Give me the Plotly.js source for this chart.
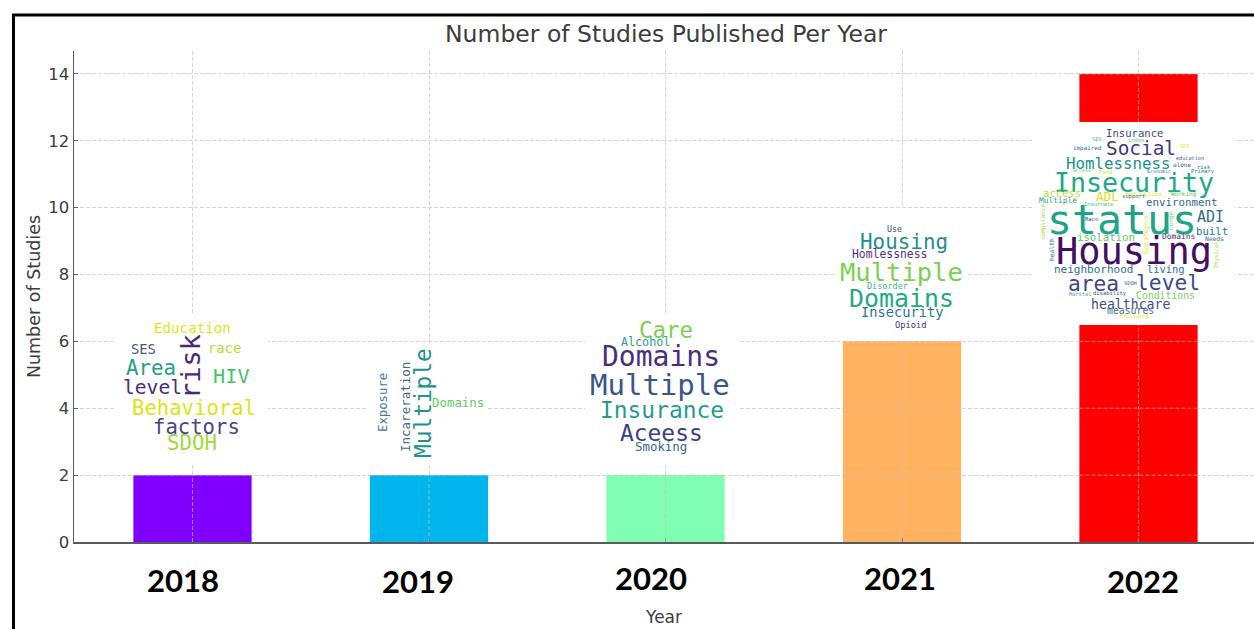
<!DOCTYPE html>
<html><head><meta charset="utf-8">
<script src="https://cdn.plot.ly/plotly-3.0.1.min.js"></script>
<style>html,body{margin:0;padding:0;background:#fff;overflow:hidden}#c{width:1254px;height:629px}</style>
</head><body><div id="c"></div>
<script>
const years=['2018','2019','2020','2021','2022'];
const studies=[2,2,2,6,14];
const barColors=['#8000ff','#00b5eb','#80ffb4','#ffb360','#ff0000'];
const yTicks=[0,2,4,6,8,10,12,14];
const yearLabelPx=[[183,580],[418,581],[651,578],[900,578],[1143,581]];
// white word-cloud panels in px: x0,y0,x1,y1
const panels=[[114,313,268,463],[368,343,488,463],[585,313,738,463],[837,208,968,341],[1032,122,1235,325]];
// word, cx, cy, font px, colour, rotation
const cloudWords=[
['Education',192,328,14.2,'#e2e418',0],['SES',143,349,13.8,'#46578b',0],['race',224,348,13.8,'#b5de2b',0],['risk',190,367,27,'#482878',-90],
['Area',151,368,20.8,'#26a085',0],['HIV',231,376,20.3,'#4ac16d',0],['level',152,387,19.6,'#472d7b',0],['Behavioral',194,408,20.6,'#dde318',0],
['factors',196,427,20.6,'#46458a',0],['SDOH',192,443,20.8,'#a0da39',0],
['Multiple',423,403,22.8,'#21918c',-90],['Incareration',405,407,12.5,'#46678e',-90],['Exposure',383,403,12.3,'#3e7a9b',-90],['Domains',458,402,12.4,'#5ec962',0],
['Care',666,330,22.4,'#7ad151',0],['Alcohol',645,342,11.7,'#2e9c8a',0],['Domains',661,356,28,'#472f7d',0],['Multiple',660,385,29,'#39568c',0],
['Insurance',662,410,22.9,'#1f9e89',0],['Aceess',661,433,22.9,'#3b3f85',0],['Smoking',661,446,12.4,'#31688e',0],
['Use',894,229,8.3,'#3e4989',0],['Housing',904,242,20.9,'#1f8f8c',0],['Homlessness',889,254,11.4,'#5c2a85',0],['Multiple',901,272,25.5,'#7ad151',0],
['Disorder',887,286,8.5,'#35b779',0],['Domains',901,298,24.9,'#22a884',0],['Insecurity',902,312,13.7,'#2a788e',0],['Opioid',910,325,8.7,'#472d7b',0],
['Insurance',1134,133,10.6,'#46458a',0],['SES',1097,139,5.5,'#44bf8a',0],['index',1136,140,5.5,'#67cc5c',0],['SDI',1185,146,5.5,'#f0e51f',0],
['Social',1141,148,19.4,'#46327e',0],['impaired',1087,149,5.9,'#3f6f8e',0],['education',1190,158,5.2,'#46578b',0],['Homlessness',1118,163,15.8,'#218f8d',0],
['alone',1182,164,6,'#3b528b',0],['risk',1204,167,5.5,'#2c728e',0],['Primary',1203,171,5.5,'#27808e',0],['access',1082,170,5,'#5ec962',0],['Food',1105,172,5.5,'#dde318',0],['Economic',1159,171,5,'#27808e',0],
['Insecurity',1134,182,26.6,'#22a884',0],['access',1062,193,10.6,'#b8de29',0],['ADL',1107,197,12.6,'#d8e219',0],['medication',1143,193,6.1,'#e8e419',0],
['Working',1184,194,6,'#5ec962',0],['support',1133,197,5.5,'#3e6e8e',0],['Multiple',1058,201,7.9,'#2da084',0],['Insurnace',1099,204,5.5,'#44bf70',0],
['environment',1182,202,10.8,'#31688e',0],['status',1122,219,41.5,'#20a486',0],['ADI',1210,217,15,'#2f6c8e',0],['Race',1091,219,5.5,'#3f4788',0],
['isolation',1106,237,10.7,'#5cc863',0],['Domains',1178,236,7.9,'#472d7b',0],['built',1212,232,10.7,'#2a788e',0],['Housing',1134,251,37,'#440f63',0],
['Needs',1214,238,6.3,'#2c728e',0],['neighborhood',1093,269,11,'#2d708e',0],['living',1166,269,10.4,'#2d708e',0],['area',1093,283,21.2,'#414487',0],
['level',1168,282,21.3,'#3e4989',0],['SDOH',1130,283,5.3,'#46578b',0],['Conditions',1165,295,9.8,'#7ad151',0],['Marital',1080,294,5.3,'#2f9e8a',0],
['disability',1110,293,5.5,'#46578b',0],['healthcare',1130,304,13.2,'#3e4c8a',0],['measures',1130,310,9.8,'#3f6f8e',0],['including',1134,317,5.3,'#dfe318',0],
['compliance',1043,222,6,'#a0da39',-90],['health',1051,250,6.3,'#3e6e8e',-90],['Subcategory',1146,235,6,'#dde318',-90],['Conge',1171,221,6,'#7ad151',-90],['Physical',1216,255,5.5,'#a0da39',-90]
];
const W=1254,H=629,L=74,R=1254,T=51,B=542;
const px=x=>(x-L)/(R-L), py=y=>(B-y)/(B-T);
const gridCol='#d6d6d6', overCol='rgba(190,190,190,.65)', inkCol='#3c3c3c', spineCol='#5a5a5a', griddash='4px,2px';
const barHalf=0.25;
const shapes=[];
// grid lines run over the bars in the reference
years.forEach((_,i)=>{
  shapes.push({type:'line',xref:'x',yref:'y',x0:i,x1:i,y0:0,y1:studies[i],line:{color:overCol,width:1,dash:griddash},layer:'above'});
  yTicks.filter(v=>v>0&&v<=studies[i]).forEach(v=>shapes.push({type:'line',xref:'x',yref:'y',x0:i-barHalf,x1:i+barHalf,y0:v,y1:v,line:{color:overCol,width:1,dash:griddash},layer:'above'}));
});
panels.forEach(p=>shapes.push({type:'rect',xref:'paper',yref:'paper',x0:px(p[0]),x1:px(p[2]),y0:py(p[3]),y1:py(p[1]),fillcolor:'#fff',line:{width:0},layer:'above'}));
shapes.push({type:'line',xref:'paper',yref:'paper',x0:px(12),x1:px(1254),y0:py(15),y1:py(15),line:{color:'#000',width:3}});
shapes.push({type:'line',xref:'paper',yref:'paper',x0:px(13.5),x1:px(13.5),y0:py(14),y1:py(629),line:{color:'#000',width:3}});
const annotations=[];
cloudWords.forEach(w=>annotations.push({xref:'paper',yref:'paper',x:px(w[1]),y:py(w[2]),text:w[0],showarrow:false,xanchor:'center',yanchor:'middle',textangle:w[5],font:{family:'DejaVu Sans Mono',size:w[3],color:w[4]}}));
years.forEach((y,i)=>annotations.push({xref:'paper',yref:'paper',x:px(yearLabelPx[i][0]),y:py(yearLabelPx[i][1]),text:'<b>'+y+'</b>',showarrow:false,xanchor:'center',yanchor:'middle',font:{family:'Lato',size:31,color:'#000'}}));
Plotly.newPlot('c',[{type:'bar',x:[0,1,2,3,4],y:studies,width:barHalf*2,marker:{color:barColors,line:{width:0}},hoverinfo:'x+y'}],{
 width:W,height:H,margin:{l:L,r:0,t:T,b:H-B,pad:0},paper_bgcolor:'#fff',plot_bgcolor:'#fff',showlegend:false,
 title:{text:'Number of Studies Published Per Year',font:{family:'DejaVu Sans',size:23.5,color:inkCol},x:(666/W),xanchor:'center',y:1-34/H,yanchor:'middle'},
 xaxis:{range:[(L-192.5)/236.5,(R-192.5)/236.5],tickvals:[0,1,2,3,4],ticktext:['','','','',''],ticks:'inside',ticklen:4,tickcolor:spineCol,showline:true,linecolor:spineCol,linewidth:1.5,showgrid:true,gridcolor:gridCol,griddash,gridwidth:1,zeroline:false,
  title:{text:'Year',font:{family:'DejaVu Sans',size:17,color:inkCol},standoff:66},automargin:false},
 yaxis:{range:[0,(B-T)/33.43],tickvals:yTicks,ticks:'inside',ticklen:4,tickcolor:spineCol,showline:true,linecolor:spineCol,linewidth:1.5,showgrid:true,gridcolor:gridCol,griddash,gridwidth:1,zeroline:false,tickfont:{family:'DejaVu Sans',size:16.5,color:inkCol},
  title:{text:'Number of Studies',font:{family:'DejaVu Sans',size:17.5,color:inkCol},standoff:3},automargin:false},
 shapes,annotations
},{displayModeBar:false,staticPlot:true});
</script></body></html>
